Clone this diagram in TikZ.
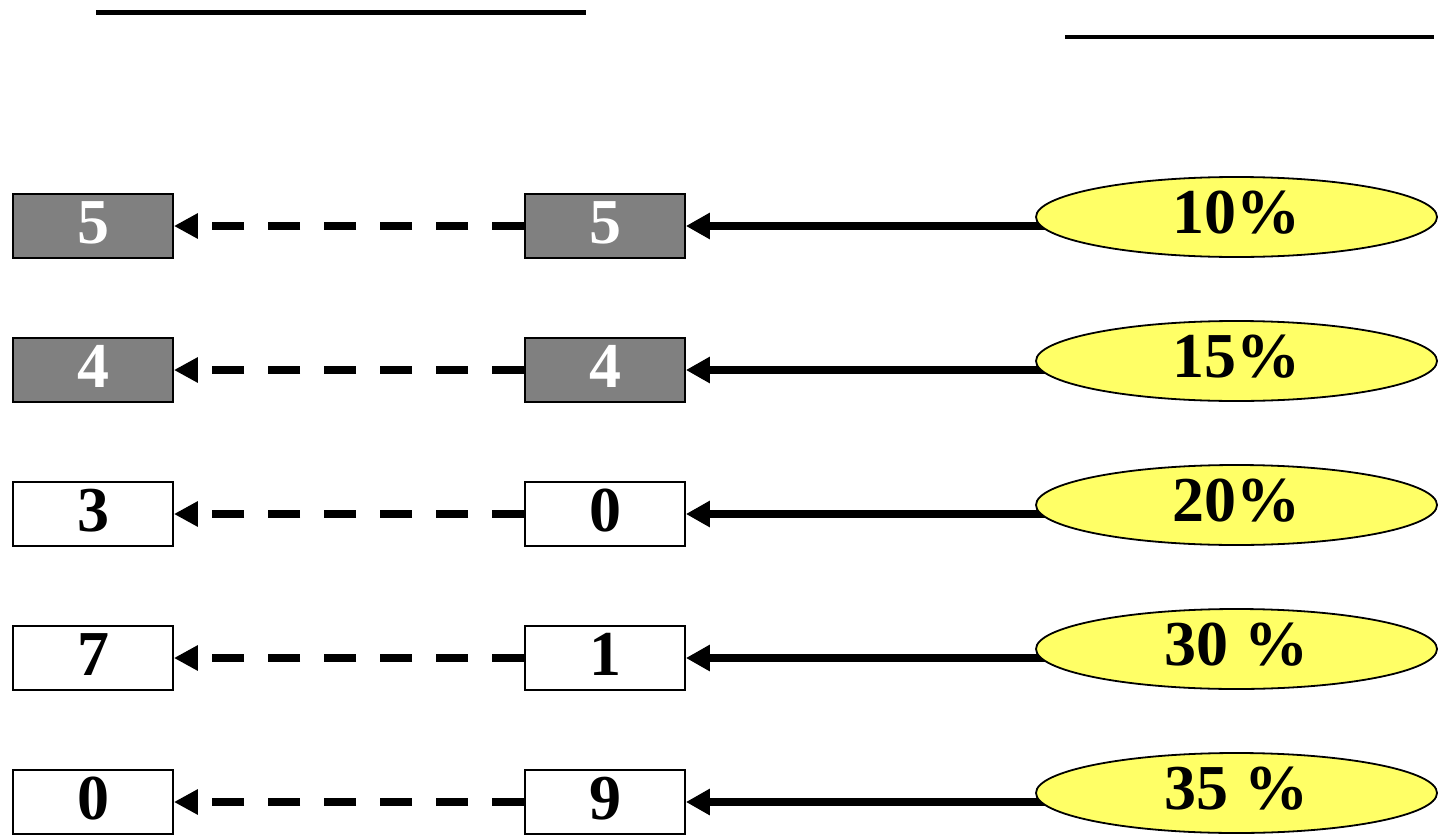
\documentclass[tikz,border=0pt]{standalone}
\usepackage{fontspec}
\setmainfont{Liberation Serif}
\usetikzlibrary{arrows.meta,shapes.geometric,calc,backgrounds}
\definecolor{boxgray}{RGB}{128,128,128}
\definecolor{ellyellow}{RGB}{255,255,102}
\tikzset{
  numbox/.style={draw=black, line width=1.8pt, fill=white, minimum width=160pt, minimum height=64pt,
    inner sep=0pt, text height=44pt, text depth=10pt, font=\fontsize{64}{64}\selectfont\bfseries},
  graybox/.style={numbox, fill=boxgray, text=white},
  pctell/.style={ellipse, draw=black, line width=1.8pt, fill=ellyellow, minimum width=401pt, minimum height=80pt,
    inner sep=0pt, text height=43pt, text depth=11pt, font=\fontsize{64}{64}\selectfont\bfseries},
  dasharrow/.style={line width=7.5pt, dash pattern=on 32pt off 24pt, -{Triangle[length=24pt,width=24pt]}},
  solidarrow/.style={line width=7.5pt, -{Triangle[length=24pt,width=25pt]}},
  topline/.style={line width=4.5pt}
}
\begin{document}
\begin{tikzpicture}[x=1pt,y=-1pt]
\useasboundingbox (0,0) rectangle (1443,835);
\coordinate (tl1a) at (96,12.5);
\coordinate (tl1b) at (586,12.5);
\coordinate (tl2a) at (1065,37);
\coordinate (tl2b) at (1434,37);
\draw[topline] (tl1a) -- (tl1b);
\draw[topline, line width=4pt] (tl2a) -- (tl2b);
\foreach \i/\l/\m/\p/\st in {0/5/5/10\%/graybox, 1/4/4/15\%/graybox, 2/3/0/20\%/numbox, 3/7/1/30 \%/numbox, 4/0/9/35 \%/numbox}{
  \pgfmathsetmacro{\yy}{226+144*\i}
  \pgfmathsetmacro{\ye}{217+144*\i}
  \node[pctell] (e\i) at (1236.5,\ye) {\p};
  \node[\st] (l\i) at (93,\yy) {\l};
  \node[\st] (m\i) at (605,\yy) {\m};
  \draw[dasharrow] (m\i.west) -- (l\i.east);
  \begin{pgfonlayer}{background}
    \draw[solidarrow] ($(m\i.east -| e\i.west)+(10,0)$) -- (m\i.east);
  \end{pgfonlayer}
}
\end{tikzpicture}
\end{document}
